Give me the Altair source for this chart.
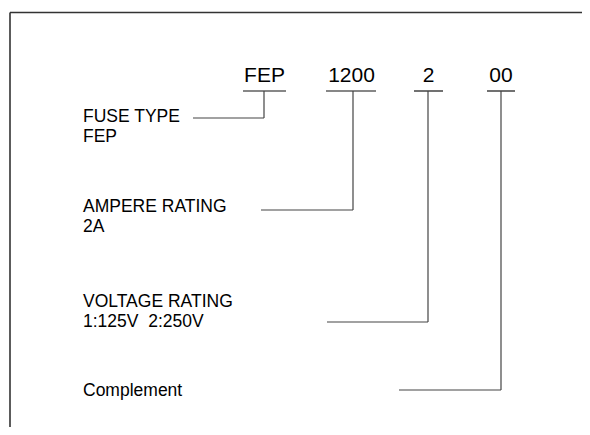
import altair as alt
import pandas as pd

# Code parts shown at the top, each with its underline and connector
code_parts = ["FEP", "1200", "2", "00"]
code_center_x = [264.5, 351.5, 428.5, 501]
underline_x1 = [243, 326, 414, 487]
underline_x2 = [286, 376, 443, 515]
connector_x = [264, 353, 428, 501]
connector_y = [118, 210, 322, 390]
connector_start_x = [193, 261, 327, 399]
underline_y = 91
code_baseline = 82

# Explanatory labels on the left
label_lines = ["FUSE TYPE", "FEP", "AMPERE RATING", "2A",
               "VOLTAGE RATING", "1:125V\u00a0 2:250V", "Complement"]
label_baselines = [122, 142, 212, 232, 307, 327, 396]
label_x = 83

W, H = 574, 419
xs = alt.Scale(domain=[8, 8 + W], range=[0, W])
ys = alt.Scale(domain=[8, 8 + H], range=[0, H])

codes = pd.DataFrame({"t": code_parts, "x": code_center_x, "y": [code_baseline] * 4})
labels = pd.DataFrame({"t": label_lines, "x": [label_x] * len(label_lines), "y": label_baselines})

segs = []
for i in range(4):
    segs.append(dict(x=underline_x1[i], x2=underline_x2[i], y=underline_y, y2=underline_y, k="u"))
    segs.append(dict(x=connector_x[i], x2=connector_x[i], y=underline_y, y2=connector_y[i], k="c"))
    segs.append(dict(x=connector_start_x[i], x2=connector_x[i], y=connector_y[i], y2=connector_y[i], k="c"))
seg_df = pd.DataFrame(segs)

frame = pd.DataFrame([
    dict(x=10, x2=8 + W, y=12.5, y2=12.5),
    dict(x=10, x2=10, y=12.5, y2=8 + H),
])

def enc_seg():
    return dict(
        x=alt.X("x:Q", scale=xs, axis=None),
        x2="x2:Q",
        y=alt.Y("y:Q", scale=ys, axis=None),
        y2="y2:Q",
    )

frame_layer = alt.Chart(frame).mark_rule(color="#333333", strokeWidth=1.6, clip=False).encode(**enc_seg())
under_layer = alt.Chart(seg_df[seg_df.k == "u"]).mark_rule(color="#111111", strokeWidth=1.2).encode(**enc_seg())
conn_layer = alt.Chart(seg_df[seg_df.k == "c"]).mark_rule(color="#444444", strokeWidth=1.2).encode(**enc_seg())

code_layer = alt.Chart(codes).mark_text(
    font="Liberation Sans", fontSize=21, align="center", baseline="alphabetic", color="#000000"
).encode(
    x=alt.X("x:Q", scale=xs, axis=None),
    y=alt.Y("y:Q", scale=ys, axis=None),
    text="t:N",
)

label_layer = alt.Chart(labels).mark_text(
    font="Liberation Sans", fontSize=17.5, align="left", baseline="alphabetic", color="#000000"
).encode(
    x=alt.X("x:Q", scale=xs, axis=None),
    y=alt.Y("y:Q", scale=ys, axis=None),
    text="t:N",
)

chart = alt.layer(frame_layer, under_layer, conn_layer, code_layer, label_layer).properties(
    width=W, height=H, padding=0, autosize=alt.AutoSizeParams(type="none"),
    background="white",
).configure_view(stroke=None)

chart.save("out.html", embed_options={"renderer": "svg", "actions": False})
